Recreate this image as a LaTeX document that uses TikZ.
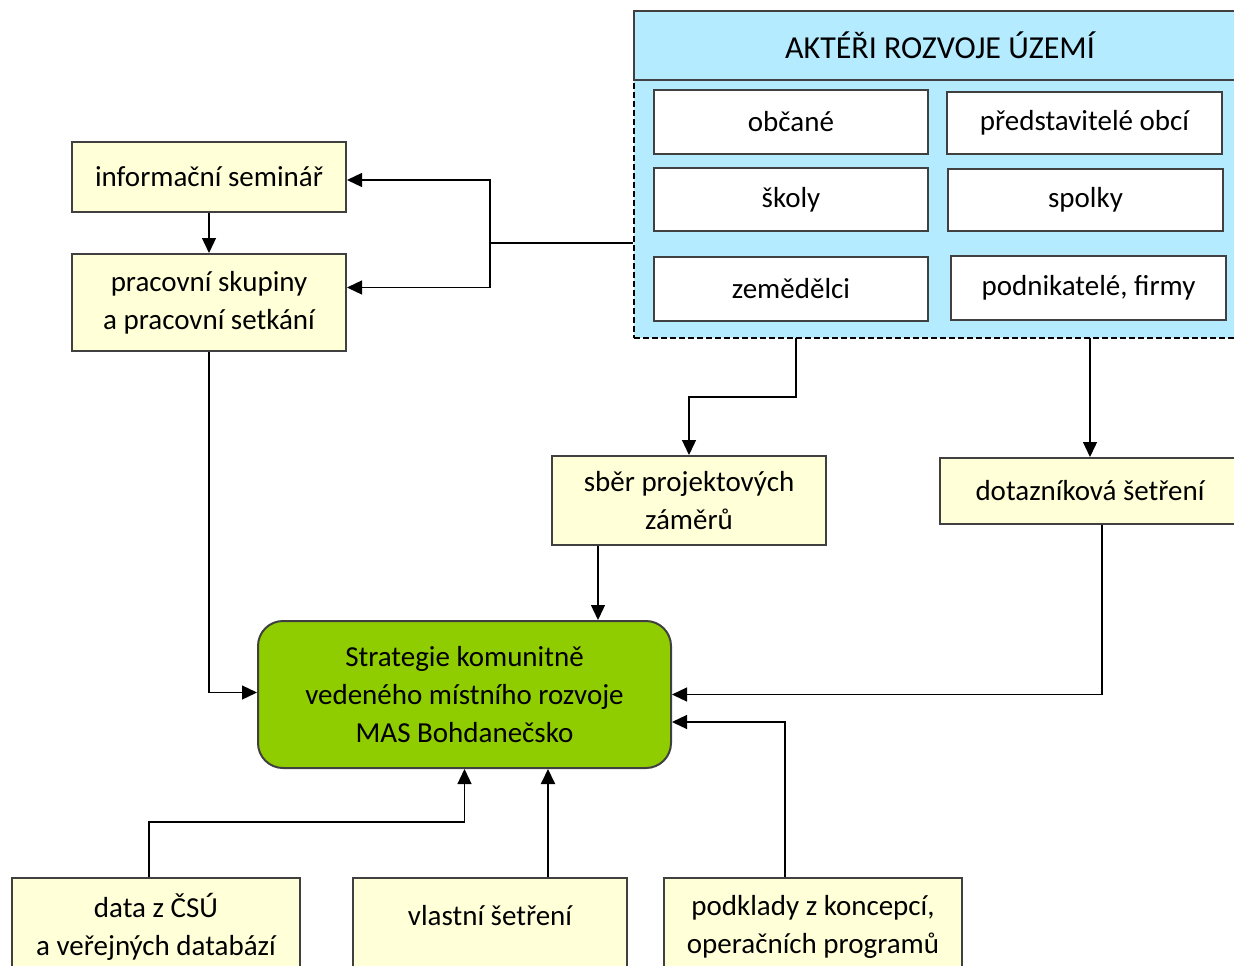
\documentclass[tikz,border=0pt]{standalone}
\usepackage{fontspec}
\setmainfont{Carlito}
\usetikzlibrary{arrows.meta,positioning}
\definecolor{boxyellow}{RGB}{255,255,216}
\definecolor{actorblue}{RGB}{180,235,255}
\definecolor{goalgreen}{RGB}{143,204,0}
\definecolor{edge}{RGB}{64,64,64}

\begin{document}
\begin{tikzpicture}[x=1pt,y=-1pt,
  every node/.style={font=\fontsize{29}{38}\selectfont,align=center,inner sep=0pt},
  box/.style={draw=edge,line width=2pt,fill=boxyellow,minimum width=274pt},
  actor/.style={draw=edge,line width=2pt,fill=white,minimum width=274pt,minimum height=63pt},
  goal/.style={draw=edge,line width=2pt,fill=goalgreen,rounded corners=25pt,minimum width=413pt,minimum height=147pt},
  link/.style={line width=1.3pt,-{Triangle[length=15pt,width=14pt]}}]
  \useasboundingbox (0,0) rectangle (1234,966);
  \clip (0,0) rectangle (1234,966);
  % actors
  \node[draw=black,line width=1.8pt,dash pattern=on 6pt off 3pt,fill=actorblue,minimum width=612pt,minimum height=258pt] (akt) at (940,209) {};
  \node[draw=edge,line width=2pt,fill=actorblue,minimum width=612pt,minimum height=69pt,font=\fontsize{32}{38}\selectfont] (hdr) at (940,45.5) {AKTÉŘI ROZVOJE ÚZEMÍ};
  \node[actor,minimum height=64pt] (obc) at (791,122) {občané};
  \node[actor,minimum width=275pt,minimum height=62pt] (pred) at (1084.5,123) {představitelé obcí};
  \node[actor] (skoly) at (791,199.5) {školy};
  \node[actor,minimum width=275pt,minimum height=62pt] (spolky) at (1085.5,200) {spolky};
  \node[actor,minimum height=64pt] (zem) at (791,289) {zemědělci};
  \node[actor,minimum width=275pt,minimum height=64pt] (podn) at (1088.5,288) {podnikatelé, firmy};
  % sources
  \node[box,minimum height=70pt] (inf) at (209,177) {informační seminář};
  \node[box,minimum height=97pt] (prac) at (209,302.5) {pracovní skupiny\\a pracovní setkání};
  \node[box,minimum height=89pt] (sber) at (689,500.5) {sběr projektových\\záměrů};
  \node[box,minimum width=300pt,minimum height=66pt] (dot) at (1090,491) {dotazníková šetření};
  \node[goal] (mas) at (464.5,694.5) {Strategie komunitně\\vedeného místního rozvoje\\MAS Bohdanečsko};
  \node[box,minimum width=288pt,minimum height=98pt] (csu) at (156,927) {data z ČSÚ\\a veřejných databází};
  \node[box,minimum height=98pt,text depth=24pt] (vl) at (490,927) {vlastní šetření};
  \node[box,minimum width=298pt,minimum height=98pt] (pod) at (813,927) {podklady z koncepcí,\\operačních programů};
  % connectors
  \coordinate (j) at (490,243);
  \coordinate (a1) at (796,338);
  \coordinate (a2) at (1090,338);
  \draw[line width=1.3pt] (akt.west |- j) -- (j);
  \draw[link] (j) |- ([yshift=-3pt]inf.east);
  \draw[link] (j) |- ([yshift=15pt]prac.east);
  \draw[link] (inf) -- (prac);
  \draw[link] (a1) -- ++(0,59) -| (sber.north);
  \draw[link] (a2) -- (dot.north);
  \draw[link] ([xshift=-91pt]sber.south) -- ([xshift=-91pt]sber.south |- mas.north);
  \draw[link] (prac.south) |- ([yshift=2pt]mas.west);
  \draw[link] ([xshift=12pt]dot.south) |- (mas.east);
  \draw[link] ([xshift=-28pt]pod.north) |- ([yshift=-27.5pt]mas.east);
  \draw[link] ([xshift=-7pt]csu.north) -- ++(0,-55) -| (mas.south);
  \draw[link,line width=2pt] ([xshift=58pt]vl.north) -- ([xshift=58pt]vl.north |- mas.south);
\end{tikzpicture}
\end{document}
